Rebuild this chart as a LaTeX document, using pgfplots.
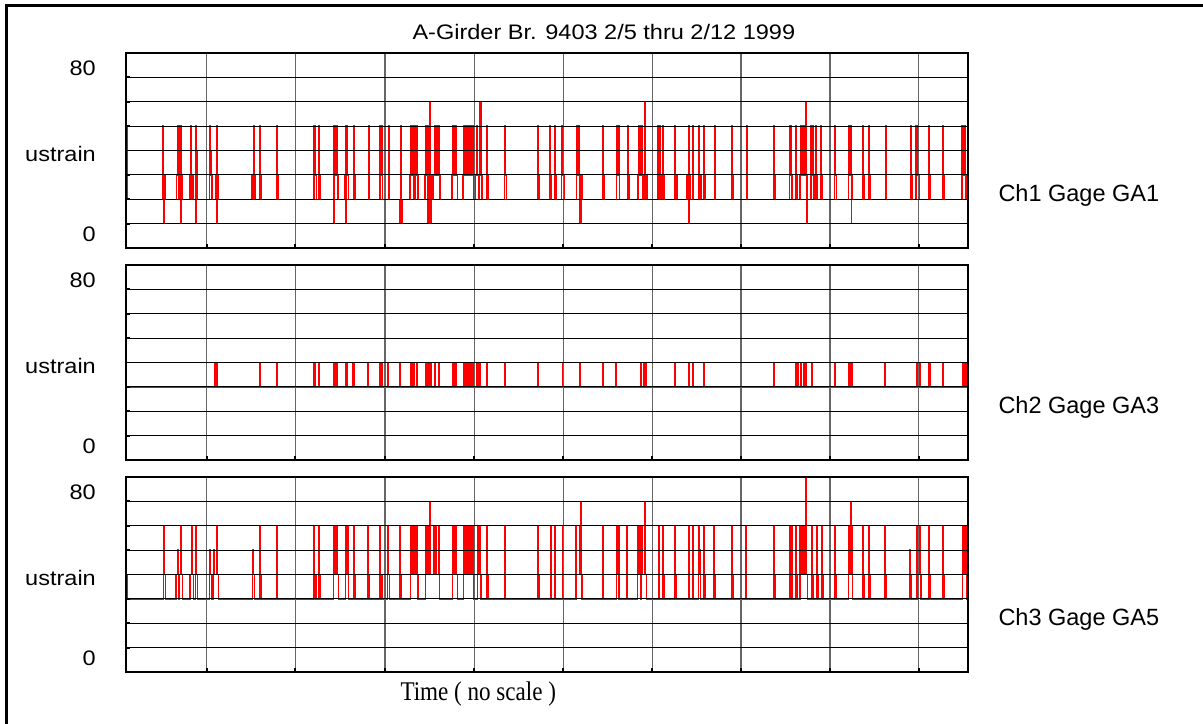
\documentclass[border=0pt]{standalone}
\usepackage{pgfplots}
\pgfplotsset{compat=1.18}
\usepackage{fontspec}
\setmainfont{Liberation Sans}
\newfontfamily\widesans[FakeStretch=1.12]{Liberation Sans}
\newfontfamily\narrowserif[FakeStretch=0.855]{Liberation Serif}
\pgfplotsset{
  panel/.style={
    width=842bp, height=195bp, scale only axis, anchor=south west,
    xmin=126, xmax=968, ymin=0, ymax=80,
    xtick={206.7,295.3,385,474.3,563.3,652.3,741,830,918.7},
    ytick={10,20,30,40,50,60,70},
    xticklabels={}, yticklabels={},
    xmajorgrids, ymajorgrids, axis on top,
    major x grid style={black!60, line width=1.2bp},
    major y grid style={black, line width=0.9bp},
    axis line style={black, line width=1.6bp},
    tick style={black, line width=1.8bp},
    major tick length=4bp, tick align=inside,
    xtick pos=left, ytick pos=left,
    clip mode=individual,
  },
  sig/.style={red, line width=1.4bp, const plot, mark=none, line join=miter},
}
\newcommand{\ylabs}{%
  \node[anchor=base east, inner sep=0pt, font=\fontsize{21bp}{25bp}\widesans] at (rel axis cs:-0.0356,0.887) {80};
  \node[anchor=base east, inner sep=0pt, font=\fontsize{21bp}{25bp}\widesans] at (rel axis cs:-0.0356,0.446) {ustrain};
  \node[anchor=base east, inner sep=0pt, font=\fontsize{21bp}{25bp}\widesans] at (rel axis cs:-0.0356,0.032) {0};
}
\begin{document}
\begin{tikzpicture}
\path[use as bounding box] (0,0) rectangle (1203bp,724bp);
\draw[black, line width=3bp] (6.5bp,-20bp) -- (6.5bp,718.3bp) -- (1230bp,718.3bp);
\node[anchor=base west, inner sep=0pt, font=\fontsize{21bp}{25bp}\widesans] at (412.3bp,684.7bp) {A-Girder Br. 9403 2/5 thru 2/12 1999};
\node[anchor=base west, inner sep=0pt, font=\fontsize{27bp}{30bp}\narrowserif] at (400.3bp,23.3bp) {Time ( no scale )};

% ---------------- Panel 1 ----------------
\begin{axis}[panel, at={(126bp,476bp)}]
\addplot[sig] coordinates {
(126,10)(126.4,50)(126.9,20)
(163,50)(163.5,10)(164,30)(165.6,20)
(176.7,30)(177.3,50)(177.8,30)(178.4,20)(179,50)(179.5,30)(180.2,20)(180.7,50)(181.1,10)(181.6,30)(182.3,20)
(190,30)(190.3,50)(190.8,30)(191.6,20)(192.3,30)(193.5,20)
(195.6,50)(196.1,10)(196.5,40)(197,30)(197.7,20)
(209.3,50)(209.8,30)(210.5,40)(211,30)(212,20)
(215.8,30)(216.2,50)(216.7,10)(217.2,50)(217.7,30)(218.6,20)
(252,30)(252.5,20)(253.3,50)(253.8,30)(255,20)
(259.3,50)(259.8,30)(261,20)
(276.3,50)(276.8,30)(278,20)
(314,50)(314.5,30)(315,50)(315.5,30)(316.3,20)(318.3,30)(319,50)(319.5,30)(320,20)
(333.3,10)(333.8,50)(334.3,10)(334.7,50)(335.2,30)(336.5,50)(337,30)(337.6,20)(338,30)(338.6,20)
(345,30)(345.3,50)(345.8,10)(346.4,50)(346.9,30)(348.3,20)
(353.3,50)(353.8,30)(354.8,20)
(368.3,50)(368.8,30)(369.5,20)
(380,50)(380.5,30)(381.5,50)(382,30)(382.5,20)
(388.3,50)(388.8,30)(389.5,20)
(399.3,10)(399.8,20)(400.5,50)(401,30)(401.5,10)(402,20)
(410,30)(411,50)(411.5,30)(412.7,50)(413.2,30)(414,20)(415,50)(415.5,30)(416.7,50)(417.2,30)(418,20)
(425,30)(425.7,50)(426.2,30)(427.5,50)(428,10)(429.5,20)(430,60)(430.5,10)(431,30)(432,20)(433,30)(435,50)(435.5,30)(436.7,50)(437.2,30)(439,50)(439.5,30)(440,20)
(452,30)(452.3,50)(452.8,30)(454,50)(454.5,30)(456,50)(456.5,30)(457.3,20)
(463,30)(464,50)(464.5,30)(466,50)(466.5,30)(467.3,50)(467.8,30)(469,50)(469.5,30)(470,50)(470.5,30)(471.7,50)(472.2,30)(472.7,50)(473.2,30)(474,20)
(475,30)(476.7,50)(477.2,30)(478.5,20)(479.3,60)(479.8,30)(480.3,60)(480.8,30)(482,20)
(486.7,50)(487.2,30)(488,20)
(504.3,50)(504.8,30)(506.5,20)
(538,50)(538.5,30)(539.5,20)
(550,50)(550.5,30)(551.5,20)
(555,50)(555.5,30)(556.5,20)
(561.7,50)(562.2,30)(562.8,50)(563.3,30)(564,20)
(576.7,50)(577.2,30)(578.7,50)(579.2,30)(580,10)(581,30)(582,20)
(602.3,50)(602.8,30)(604,20)
(616.7,50)(617.2,30)(618.3,50)(618.8,30)(619.5,20)
(627.3,50)(627.8,30)(629,20)
(638,30)(638.7,50)(639.2,30)(640,50)(640.5,30)(641.7,50)(642.2,30)(643,20)(644.3,60)(644.8,30)(645.5,20)(646,30)(647,20)
(657.3,50)(657.8,30)(659,20)(660,50)(660.5,30)(661.5,20)(662.7,50)(663.2,30)(663.8,20)
(675,50)(675.5,30)(677,20)
(687,30)(688.3,50)(688.8,10)(689.3,30)(690,20)(692.3,50)(692.8,30)(693.5,20)
(699,50)(699.5,30)(701,20)(704,50)(704.5,30)(705.5,20)
(714.3,50)(714.8,30)(715.5,20)
(731.7,50)(732.2,30)(733,20)
(746.3,50)(746.8,30)(747.5,20)
(773.3,50)(773.8,30)(775,20)
(789.3,50)(789.8,30)(790.7,50)(791.2,30)(792,20)
(795.7,50)(796.2,30)(797,20)
(800,30)(800.7,50)(801.2,30)(802.7,50)(803.2,30)(804,50)(804.5,30)(805,50)(805.5,30)(806,60)(806.5,10)(807,30)(807.7,20)
(811,50)(811.5,30)(812.7,50)(813.2,30)(813.8,20)
(816,50)(816.5,30)(817.3,20)
(820.7,50)(821.2,30)(822,20)
(834.3,50)(834.8,30)(836.7,20)
(848.5,30)(849,50)(849.5,30)(850.7,50)(851.2,10)(851.7,30)(852.3,20)
(862.7,50)(863.2,30)(864,20)
(868.7,50)(869.2,30)(870,20)
(885.3,50)(885.8,30)(886.5,20)
(910.3,50)(910.8,30)(912,20)
(916,50)(916.5,30)(917,50)(917.5,30)(918,50)(918.5,30)(919.3,20)
(929,50)(929.5,30)(930.5,20)
(942.7,50)(943.2,30)(944,20)
(962,50)(962.5,30)(963,50)(963.5,30)(964,50)(964.5,30)(965,50)(965.5,30)(966,20)(968,20)
};
\ylabs
\node[anchor=base west, inner sep=0pt, font=\fontsize{23.5bp}{27bp}\selectfont] at (rel axis cs:1.036,0.2374) {Ch1 Gage GA1};
\end{axis}

% ---------------- Panel 2 ----------------
\begin{axis}[panel, at={(126bp,264bp)}]
\addplot[sig] coordinates {
(126,20)(126.5,30)
(215,40)(215.5,30)(216.7,40)(217.2,30)
(259.7,40)(260.2,30)
(276.3,40)(276.8,30)
(314,40)(314.5,30)(315,40)(315.5,30)(318.3,40)(318.8,30)
(333.3,40)(333.8,30)(334.3,40)(334.8,30)(335.3,40)(335.8,30)(336.7,40)(337.2,30)
(345.3,40)(345.8,30)(346.7,40)(347.2,30)
(352.7,40)(353.2,30)(353.7,40)(354.2,30)
(368,40)(368.5,30)
(380,40)(380.5,30)(381.7,40)(382.2,30)
(387.7,40)(388.2,30)
(400,40)(400.5,30)
(410.7,40)(411.2,30)(412.7,40)(413.2,30)(414,40)(414.5,30)(416.7,40)(417.2,30)
(425.7,40)(426.2,30)(426.7,40)(427.2,30)(427.7,40)(428.2,30)(429,40)(429.5,30)(430,40)(430.5,30)(431,40)(431.5,30)
(435,40)(435.5,30)(438.3,40)(438.8,30)
(452.3,40)(452.8,30)(454,40)(454.5,30)(456,40)(456.5,30)
(463.3,40)(463.8,30)(465,40)(465.5,30)(466.7,40)(467.2,30)(468.3,40)(468.8,30)(470,40)(470.5,30)(471.7,40)(472.2,30)(472.7,40)(473.2,30)
(476.7,40)(477.2,30)(478.3,40)(478.8,30)(480,40)(480.5,30)
(486.7,40)(487.2,30)
(505,40)(505.5,30)
(538,40)(538.5,30)
(562.3,40)(562.8,30)
(580,40)(580.5,30)
(602.3,40)(602.8,30)
(616,40)(616.5,30)
(640.7,40)(641.2,30)(644,40)(644.5,30)(645.3,40)(645.8,30)
(675,40)(675.5,30)
(688.3,40)(688.8,30)(692.3,40)(692.8,30)
(703.3,40)(703.8,30)
(774,40)(774.5,30)
(796,40)(796.5,30)(797.7,40)(798.2,30)(800.7,40)(801.2,30)
(803.3,40)(803.8,30)(805,40)(805.5,30)(806,40)(806.5,30)
(811.7,40)(812.2,30)
(834.3,40)(834.8,30)
(848.3,40)(848.8,30)(849.3,40)(849.8,30)(850.3,40)(850.8,30)(851.3,40)(851.8,30)
(885,40)(885.5,30)
(917,40)(917.5,30)(918,40)(918.5,30)(919,40)(919.5,30)(920,40)(920.5,30)
(928.3,40)(928.8,30)(930,40)(930.5,30)
(942.7,40)(943.2,30)
(962.7,40)(963.2,30)(963.7,40)(964.2,30)(964.7,40)(965.2,30)(965.7,40)(966.2,30)
(968,30)
};
\ylabs
\node[anchor=base west, inner sep=0pt, font=\fontsize{23.5bp}{27bp}\selectfont] at (rel axis cs:1.036,0.2374) {Ch2 Gage GA3};
\end{axis}

% ---------------- Panel 3 ----------------
\begin{axis}[panel, at={(126bp,52bp)}]
\addplot[sig] coordinates {
(126,20)(126.4,40)(126.8,30)
(163.3,60)(163.8,40)(165.6,30)
(176,40)(177.3,50)(177.8,40)(179,30)(179.5,40)(180.7,60)(181.2,40)(182.3,30)
(190,40)(191.3,60)(191.8,40)(193.3,30)
(195.6,60)(196.1,40)(197.5,30)
(209.3,40)(210,50)(210.5,40)(212,30)
(213.7,40)(214,50)(214.5,40)(216.7,60)(217.2,40)(218.5,30)
(252.3,50)(252.8,40)(254.5,30)
(259.7,60)(260.2,40)(261,30)
(276.3,60)(276.8,40)(277.7,30)
(314,60)(314.5,40)(316,30)(319,60)(319.5,40)(320,30)
(333.3,40)(333.7,60)(334.2,40)(335,60)(335.5,40)(336.7,60)(337.2,40)(338.3,30)
(345.3,60)(345.8,40)(347.3,60)(347.8,40)(348.5,30)
(353.3,60)(353.8,40)(354.8,30)
(368,60)(368.5,40)(369.5,30)
(380,60)(380.5,40)(382,30)
(387.7,60)(388.2,40)(389.5,30)
(400,60)(400.5,40)(401.5,30)
(410.5,40)(411,60)(411.5,40)(412.7,60)(413.2,40)(415,60)(415.5,40)(416.7,60)(417.2,40)(418,30)
(425.7,60)(426.2,40)(427.3,60)(427.8,40)(429,60)(429.5,40)(430,70)(430.5,40)(433.3,60)(433.8,40)(435.7,60)(436.2,40)(438.3,60)(438.8,40)(439.5,30)
(452.3,60)(452.8,40)(454,60)(454.5,40)(456,60)(456.5,40)(457.3,30)
(463.3,60)(463.8,40)(465,60)(465.5,40)(466,60)(466.5,40)(467.3,60)(467.8,40)(468.3,60)(468.8,40)(470,60)(470.5,40)(471.7,60)(472.2,40)(473.3,60)(473.8,30)
(477.3,60)(477.8,40)(479.3,50)(479.8,60)(480.3,40)(481,30)
(486.7,60)(487.2,40)(488,30)
(505,60)(505.5,30)
(537.7,60)(538.2,40)(539,30)
(550.7,60)(551.2,30)(554.3,60)(554.8,30)
(562.3,60)(562.8,30)
(576,60)(576.5,40)(579.3,60)(579.8,40)(580.3,70)(580.8,40)(582,30)
(602.3,60)(602.8,30)
(616.7,60)(617.2,40)(618.3,60)(618.8,30)
(626.7,60)(627.2,30)
(637.7,60)(638.2,40)(640,60)(640.5,30)(641.7,60)(642.2,40)(645,70)(645.5,40)(646.3,30)
(658.3,60)(658.8,40)(659.5,30)(662.7,60)(663.2,40)(664,30)
(675,60)(675.5,40)(676,30)
(688.3,60)(688.8,40)(689.5,30)(692.3,60)(692.8,40)(693.5,30)
(698.3,60)(698.8,40)(699.3,50)(699.8,40)(700.5,30)(703.3,60)(703.8,40)(705,30)
(714,60)(714.5,40)(715.5,30)
(731.7,60)(732.2,40)(733,30)
(746,60)(746.5,30)
(774,60)(774.5,40)(775,30)
(789.3,60)(789.8,40)(790.5,30)(791.3,60)(791.8,40)(792.5,30)
(796,60)(796.5,40)(797.3,30)
(800,60)(800.5,40)(801.7,60)(802.2,40)(803.3,60)(803.8,40)(804.5,60)(805,40)(806,80)(806.5,40)(807.3,30)
(811.7,60)(812.2,40)(813,30)
(816.7,60)(817.2,40)(818,30)
(821.7,60)(822.2,40)(823,30)
(834.3,60)(834.8,40)(836,30)
(848.3,60)(848.8,40)(849.3,60)(849.8,40)(850.3,60)(850.8,70)(851.3,40)(852,60)(852.5,30)
(862.7,60)(863.2,40)(864,30)
(869,60)(869.5,40)(870,30)
(885,60)(885.5,40)(886,30)
(910,50)(910.5,40)(911.5,30)
(917,60)(917.5,40)(918,60)(918.5,40)(919,60)(919.5,40)(920,60)(920.5,40)(921,30)
(929,60)(929.5,40)(930.5,30)
(942.7,60)(943.2,40)(944,30)
(962.7,60)(963.2,40)(963.7,60)(964.2,40)(964.7,60)(965.2,40)(965.7,60)(966.2,30)(968,30)
};
\ylabs
\node[anchor=base west, inner sep=0pt, font=\fontsize{23.5bp}{27bp}\selectfont] at (rel axis cs:1.036,0.2374) {Ch3 Gage GA5};
\end{axis}
\end{tikzpicture}
\end{document}
